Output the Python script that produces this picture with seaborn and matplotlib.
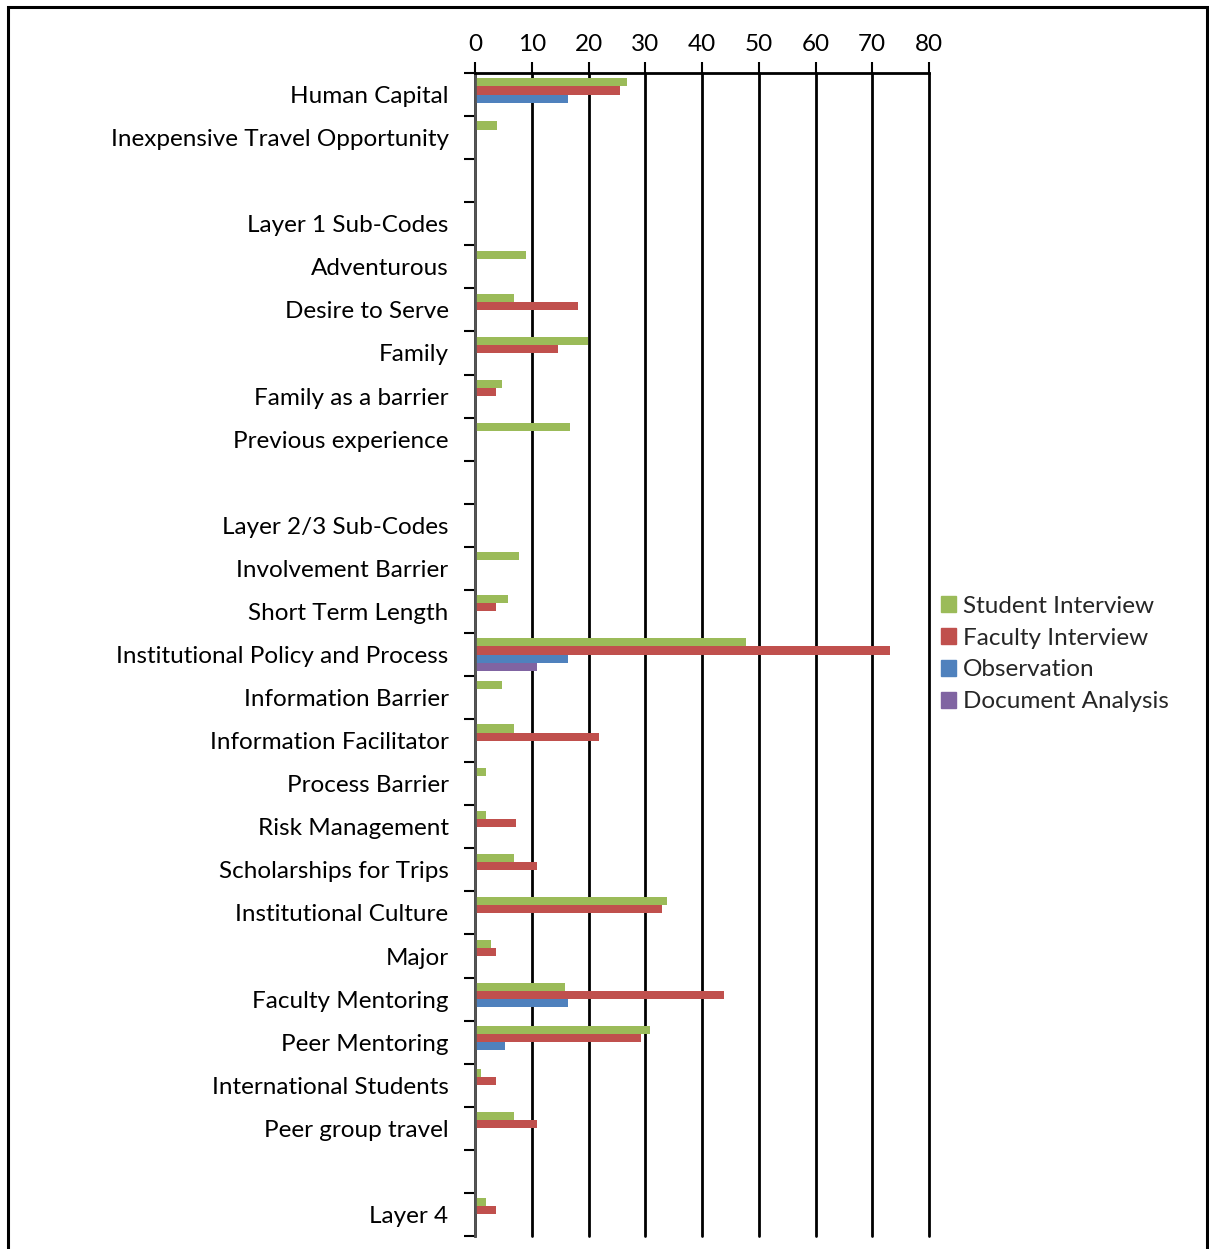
import pandas as pd
import matplotlib.pyplot as plt
import matplotlib.patches as mpatches
import seaborn as sns

# Categories top to bottom (blank rows are spacer rows in the original chart)
categories = [
    'Human Capital', 'Inexpensive Travel Opportunity', ' ',
    'Layer 1 Sub-Codes', 'Adventurous', 'Desire to Serve', 'Family',
    'Family as a barrier', 'Previous experience', '  ',
    'Layer 2/3 Sub-Codes', 'Involvement Barrier', 'Short Term Length',
    'Institutional Policy and Process', 'Information Barrier',
    'Information Facilitator', 'Process Barrier', 'Risk Management',
    'Scholarships for Trips', 'Institutional Culture', 'Major',
    'Faculty Mentoring', 'Peer Mentoring', 'International Students',
    'Peer group travel', '   ', 'Layer 4',
]

student = [26.7, 3.9, 0, 0, 8.9, 6.8, 19.9, 4.8, 16.8, 0,
           0, 7.8, 5.8, 47.8, 4.8, 6.8, 1.9, 1.9, 6.8, 33.9, 2.9,
           15.8, 30.9, 1.0, 6.8, 0, 1.9]
faculty = [25.6, 0, 0, 0, 0, 18.2, 14.6, 3.65, 0, 0,
           0, 0, 3.65, 73.2, 0, 21.9, 0, 7.2, 10.9, 32.9, 3.65,
           43.9, 29.2, 3.65, 10.9, 0, 3.65]
observation = [16.3, 0, 0, 0, 0, 0, 0, 0, 0, 0,
               0, 0, 0, 16.3, 0, 0, 0, 0, 0, 0, 0,
               16.3, 5.3, 0, 0, 0, 0]
document = [0, 0, 0, 0, 0, 0, 0, 0, 0, 0,
            0, 0, 0, 10.9, 0, 0, 0, 0, 0, 0, 0,
            0, 0, 0, 0, 0, 0]

series_names = ['Student Interview', 'Faculty Interview', 'Observation', 'Document Analysis']
colors = ['#9BBB59', '#C0504D', '#4F81BD', '#8064A2']

# Long format for seaborn
rows = []
for name, vals in zip(series_names, [student, faculty, observation, document]):
    for cat, v in zip(categories, vals):
        rows.append({'Category': cat, 'Source': name, 'Value': v})
df = pd.DataFrame(rows)

sns.set_style('white')
plt.rcParams['font.family'] = ['Lato', 'DejaVu Sans']
fs = 17.5

fig = plt.figure(figsize=(12.09, 12.49), dpi=100)
ax = fig.add_axes([475 / 1209, 1 - 1236 / 1249, (929 - 475) / 1209, (1236 - 73) / 1249])

sns.barplot(data=df, y='Category', x='Value', hue='Source', order=categories,
            hue_order=series_names, palette=colors, orient='h', width=0.75,
            linewidth=0, saturation=1, ax=ax, legend=False)

ax.set_xlim(0, 80)
ax.set_ylim(len(categories) - 0.5, -0.5)
ax.set_xticks(range(0, 81, 10))
ax.xaxis.tick_top()
ax.tick_params(axis='x', which='major', top=True, bottom=False, length=8, width=1.5,
               labelsize=fs, pad=5, color='black', labelcolor='black')
ax.grid(axis='x', color='black', linewidth=2)
for gl in ax.get_xgridlines():
    gl.set_clip_on(False)
ax.set_axisbelow(True)

# y labels at centers, tick marks at band edges
ax.set_yticks(range(len(categories)))
ax.set_yticklabels(categories)
ax.set_yticks([i - 0.5 for i in range(len(categories) + 1)], minor=True)
ax.tick_params(axis='y', which='major', length=0, pad=19, labelsize=fs, labelcolor='black')
ax.tick_params(axis='y', which='minor', left=True, length=8, width=1.5, color='black')

ax.set_xlabel('')
ax.set_ylabel('')
for side in ['right', 'bottom']:
    ax.spines[side].set_visible(False)
ax.spines['top'].set_color('black')
ax.spines['top'].set_linewidth(2)
ax.spines['left'].set_color('#555555')
ax.spines['left'].set_linewidth(2)

handles = [mpatches.Patch(color=c, label=n) for n, c in zip(series_names, colors)]
fig.legend(handles=handles, loc='center left', bbox_to_anchor=(941 / 1209, 1 - 654 / 1249),
           frameon=False, fontsize=fs, handlelength=0.6, handleheight=0.6,
           handletextpad=0.3, labelspacing=0.45, borderaxespad=0, borderpad=0)

# outer chart border
fig.patches.append(mpatches.Rectangle((8 / 1209, -0.05), (1207 - 8) / 1209, 1.05 - 7 / 1249,
                                      transform=fig.transFigure, fill=False,
                                      edgecolor='black', linewidth=2.2))

plt.savefig('out.png', dpi=100)
